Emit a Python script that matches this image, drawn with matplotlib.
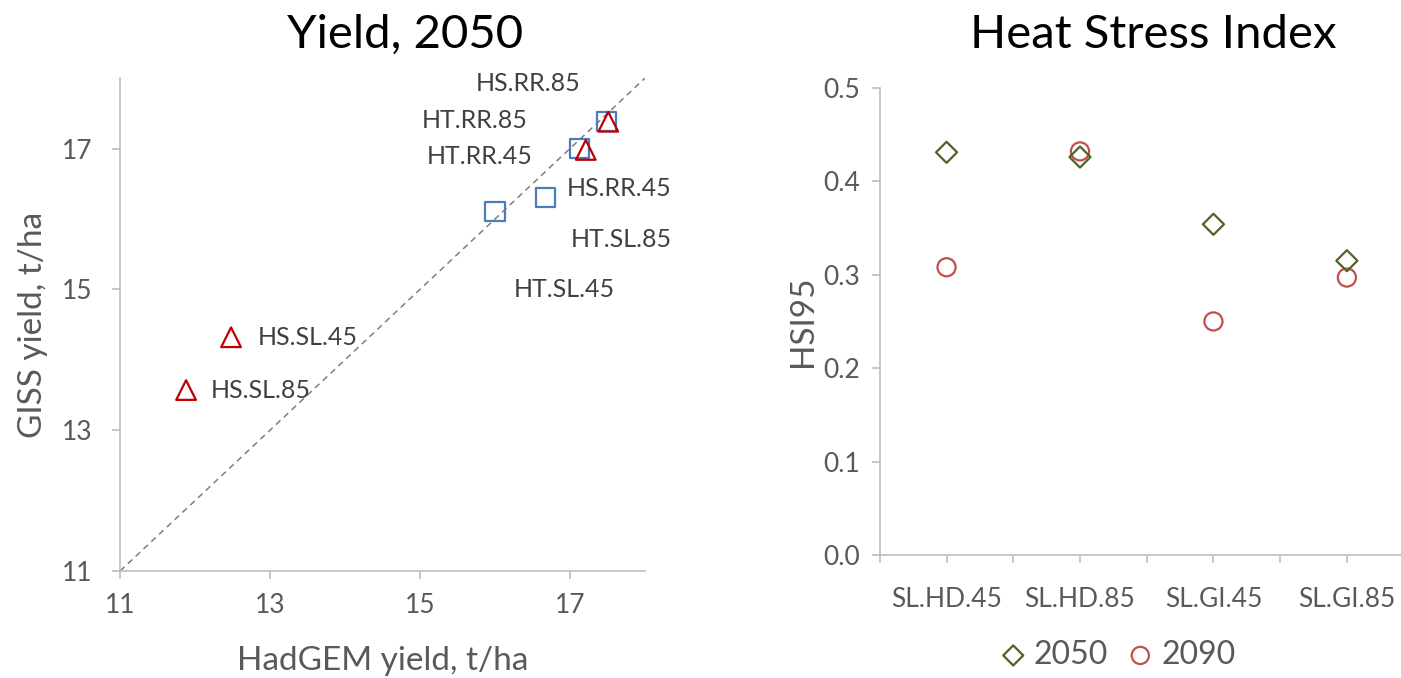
import matplotlib.pyplot as plt
from matplotlib.ticker import FixedLocator

plt.rcParams['font.family'] = ['Lato', 'DejaVu Sans']

# left panel: yield 2050, HadGEM vs GISS
hadgem_sq = [16.0, 16.67, 17.13, 17.49]
giss_sq = [16.11, 16.31, 17.0, 17.38]
hadgem_tri = [17.21, 17.51, 12.48, 11.88]
giss_tri = [16.98, 17.38, 14.32, 13.57]
labels = ['HS.RR.85', 'HT.RR.85', 'HT.RR.45', 'HS.RR.45',
          'HT.SL.85', 'HT.SL.45', 'HS.SL.45', 'HS.SL.85']
# label anchor positions (data coords, text centred)
label_pos = [(16.44, 17.92), (15.73, 17.40), (15.80, 16.88), (17.65, 16.43),
             (17.69, 15.71), (16.93, 15.0), (13.50, 14.32), (12.88, 13.56)]

# right panel: heat stress index
cats = ['SL.HD.45', 'SL.HD.85', 'SL.GI.45', 'SL.GI.85']
hsi_2050 = [0.431, 0.426, 0.354, 0.315]
hsi_2090 = [0.308, 0.432, 0.250, 0.297]

txt = '#595959'
spine = '#bfbfbf'

fig = plt.figure(figsize=(14.01, 6.78), dpi=100)

ax1 = fig.add_axes([0.0857, 0.1578, 0.3747, 0.727])
ax1.plot([11, 18], [11, 18], ls=(0, (4, 3)), color='#7f7f7f', lw=1.1, zorder=1)
ax1.scatter(hadgem_sq, giss_sq, marker='s', s=190, facecolors='none',
            edgecolors='#4a7ebb', linewidths=1.6, zorder=2)
ax1.scatter(hadgem_tri, giss_tri, marker='^', s=200, facecolors='none',
            edgecolors='#c00000', linewidths=1.6, zorder=3)
for lab, (x, y) in zip(labels, label_pos):
    ax1.text(x, y, lab, ha='center', va='center', fontsize=18, color='#404040')
ax1.set_xlim(11, 18)
ax1.set_ylim(11, 18)
ax1.set_xticks([11, 13, 15, 17])
ax1.set_yticks([11, 13, 15, 17])
ax1.set_xlabel('HadGEM yield, t/ha', fontsize=24, color=txt, labelpad=20)
ax1.set_ylabel('GISS yield, t/ha', fontsize=24, color=txt, labelpad=10)
ax1.set_title('Yield, 2050', fontsize=34, pad=22, x=0.543)

ax2 = fig.add_axes([0.628, 0.1814, 0.381, 0.689])
xs = list(range(len(cats)))
ax2.scatter(xs, hsi_2050, marker='D', s=115, facecolors='none',
            edgecolors='#4f6228', linewidths=1.6, zorder=3, label='2050')
ax2.scatter(xs, hsi_2090, marker='o', s=170, facecolors='none',
            edgecolors='#c0504d', linewidths=1.6, zorder=2, label='2090')
ax2.set_xlim(-0.5, 3.5)
ax2.set_ylim(0, 0.5)
ax2.set_yticks([0, 0.1, 0.2, 0.3, 0.4, 0.5])
ax2.set_yticklabels(['0.0', '0.1', '0.2', '0.3', '0.4', '0.5'])
ax2.set_xticks(xs)
ax2.set_xticklabels(cats)
ax2.xaxis.set_minor_locator(FixedLocator([-0.5, 0.5, 1.5, 2.5, 3.5]))
ax2.tick_params(axis='x', which='major', length=0, pad=17)
ax2.tick_params(axis='x', which='minor', length=6, color=spine)
ax2.set_ylabel('HSI95', fontsize=24, color=txt, labelpad=4)
ax2.set_title('Heat Stress Index', fontsize=34, pad=29, x=0.513)
ax2.legend(loc='upper center', bbox_to_anchor=(0.44, -0.12), ncol=2, frameon=False,
           fontsize=23, labelcolor=txt, handletextpad=0.05, columnspacing=0.4,
           handlelength=1.2, markerscale=0.95)

for ax in (ax1, ax2):
    for s in ('top', 'right'):
        ax.spines[s].set_visible(False)
    for s in ('left', 'bottom'):
        ax.spines[s].set_color(spine)
        ax.spines[s].set_linewidth(1.2)
    ax.tick_params(which='major', labelsize=19, labelcolor=txt, color=spine, length=6, width=1.2)
    ax.tick_params(which='minor', width=1.2)

ax1.tick_params(axis='x', pad=10)
ax1.tick_params(axis='y', pad=14)
ax2.tick_params(axis='y', pad=8)

fig.savefig('out.png', dpi=100)
